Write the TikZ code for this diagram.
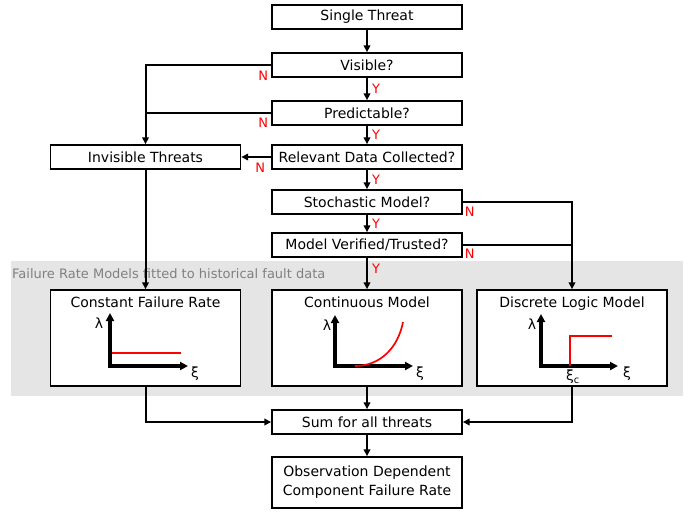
\documentclass[tikz,border=0pt]{standalone}
\usepackage{fontspec}
\setmainfont{DejaVu Sans}
\usetikzlibrary{arrows.meta, positioning}
\definecolor{bandgrey}{rgb}{0.898, 0.898, 0.898}
\definecolor{notered}{rgb}{1, 0, 0}
\definecolor{captiongrey}{rgb}{0.5, 0.5, 0.5}

\begin{document}
\begin{tikzpicture}[x=1pt, y=-1pt,
    box/.style={draw, line width=1.4pt, fill=white, minimum width=190pt, minimum height=24pt,
        inner sep=1pt, align=center, font=\fontsize{14}{19}\selectfont},
    title/.style={font=\fontsize{14}{16}\selectfont},
    arr/.style={line width=2pt, -{Triangle[length=7pt, width=6.5pt]}},
    link/.style={line width=2pt},
    axis/.style={line width=3.2pt, {Triangle[length=8pt, width=8pt]}-{Triangle[length=8pt, width=8pt]}},
    rate/.style={line width=2pt, color=notered},
    yn/.style={text=notered, inner sep=0pt, font=\fontsize{13}{13}\selectfont},
    sym/.style={inner sep=0pt, font=\fontsize{14}{14}\selectfont}]
    \useasboundingbox (0, 0) rectangle (696, 512);

    % band behind the three models
    \fill[bandgrey] (11, 261) rectangle (683, 396);
    \node[anchor=west, text=captiongrey, inner sep=1pt, font=\fontsize{13}{13}\selectfont] (bandtitle) at (11, 274)
        {Failure Rate Models fitted to historical fault data};

    \node[box] (single) at (367, 17) {Single Threat};
    \node[box] (visible) at (367, 65) {Visible?};
    \node[box] (predict) at (367, 113) {Predictable?};
    \node[box] (relevant) at (367, 157) {Relevant Data Collected?};
    \node[box] (invisible) at (145.5, 157) {Invisible Threats};
    \node[box] (stoch) at (367, 202) {Stochastic Model?};
    \node[box] (verified) at (367, 245) {Model Verified/Trusted?};

    \node[box, minimum height=96pt] (constant) at (145.5, 338) {};
    \node[box, minimum height=96pt] (continuous) at (367, 338) {};
    \node[box, minimum height=96pt] (discrete) at (572, 338) {};
    \node[title, below=4pt of constant.north] (constanttitle) {Constant Failure Rate};
    \node[title, below=4pt of continuous.north] (continuoustitle) {Continuous Model};
    \node[title, below=4pt of discrete.north] (discretetitle) {Discrete Logic Model};

    \node[box] (sum) at (367, 422) {Sum for all threats};
    \node[box, minimum height=51pt] (observe) at (367, 482.5) {Observation Dependent\\Component Failure Rate};

    % plots
    \draw[axis] (110, 313) -- (110, 366) -- (188, 366);
    \draw[rate] (112, 353) -- (181, 353);
    \node[sym] (lambdaa) at (99, 323) {λ};
    \node[sym] (xia) at (195, 374) {ξ};

    \draw[axis] (335, 315) -- (335, 366) -- (413, 366);
    \draw[rate, line width=1.7pt] (355, 366) .. controls (380, 366) and (398, 348) .. (403, 322);
    \node[sym] (lambdab) at (327, 325) {λ};
    \node[sym] (xib) at (420, 374) {ξ};

    \draw[axis] (541, 314) -- (541, 366) -- (618, 366);
    \draw[rate, line width=2.6pt] (570, 366) -- (570, 336) -- (612, 336);
    \node[sym] (lambdac) at (532, 324) {λ};
    \node[sym] (xic) at (627, 374) {ξ};
    \node[sym] (xicrit) at (573, 377) {ξ\textsubscript{c}};

    % connectors
    \draw[arr] (single) -- (visible);
    \draw[arr] (visible) -- node[yn, right=4pt] {Y} (predict);
    \draw[arr] (predict) -- node[yn, right=4pt] {Y} (relevant);
    \draw[arr] (relevant) -- node[yn, right=4pt] {Y} (stoch);
    \draw[arr] (stoch) -- node[yn, right=4pt] {Y} (verified);
    \draw[arr] (verified) -- node[yn, pos=0.35, right=4pt] {Y} (continuous);

    \draw[arr] (visible.west) -| (invisible.north);
    \draw[link] (predict.west) -- (predict.west -| invisible.north);
    \draw[arr] (relevant) -- (invisible);
    \draw[arr] (stoch.east) -| (discrete.north);
    \draw[link] (verified.east) -- (verified.east -| discrete.north);

    \node[yn] (nvisible) at ([xshift=-8pt, yshift=-11pt]visible.west) {N};
    \node[yn] (npredict) at ([xshift=-8pt, yshift=-10pt]predict.west) {N};
    \node[yn] (nrelevant) at ([xshift=-11pt, yshift=-11pt]relevant.west) {N};
    \node[yn] (nstoch) at ([xshift=7pt, yshift=-10pt]stoch.east) {N};
    \node[yn] (nverified) at ([xshift=7pt, yshift=-9pt]verified.east) {N};

    \draw[arr] (invisible) -- (constant);
    \draw[arr] (constant.south) |- (sum.west);
    \draw[arr] (continuous) -- (sum);
    \draw[arr] (discrete.south) |- (sum.east);
    \draw[arr] (sum) -- (observe);
\end{tikzpicture}
\end{document}
